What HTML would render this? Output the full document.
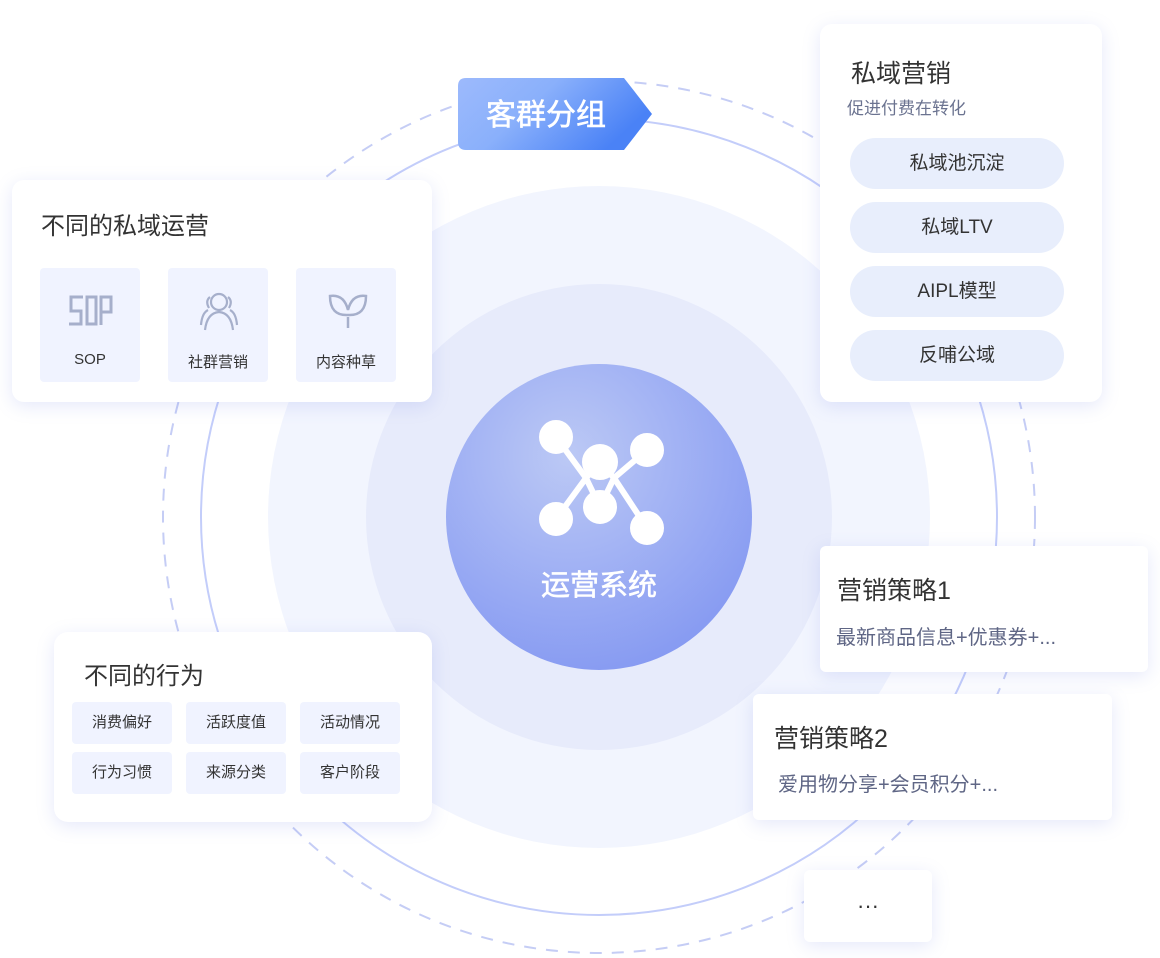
<!DOCTYPE html>
<html><head><meta charset="utf-8"><style>
*{margin:0;padding:0;box-sizing:border-box}
body{width:1160px;height:958px;background:#fff;position:relative;overflow:hidden;font-family:"Liberation Sans","Noto Sans CJK SC",sans-serif;color:#333}
.card{position:absolute;background:#fff;border-radius:12px;box-shadow:0 4px 18px rgba(110,130,230,.18)}
.abs{position:absolute}
.tile{position:absolute;background:#f0f3ff;border-radius:4px;text-align:center;font-size:15px;color:#333}
.pill{position:absolute;left:30px;width:214px;height:51px;border-radius:26px;background:#e8eefc;text-align:center;line-height:51px;font-size:19px;color:#333}
.tag{position:absolute;width:100px;height:42px;background:#f0f3ff;border-radius:4px;text-align:center;line-height:42px;font-size:15px;color:#333}
</style></head><body>
<svg class="abs" style="left:0;top:0" width="1160" height="958">
<defs>
<radialGradient id="cg" cx="0.4" cy="0.3" r="0.75">
<stop offset="0" stop-color="#bcc9f5"/><stop offset="1" stop-color="#8599f2"/></radialGradient>
<linearGradient id="tg" x1="0" y1="0" x2="1" y2="0.4"><stop offset="0" stop-color="#9dbafc"/><stop offset="0.45" stop-color="#8ab0fb"/><stop offset="1" stop-color="#4a82f6"/></linearGradient>
</defs>
<circle cx="599" cy="517" r="436" fill="none" stroke="#c5cdf5" stroke-width="2" stroke-dasharray="12 10"/>
<circle cx="599" cy="517" r="398" fill="none" stroke="#c3cdfa" stroke-width="2"/>
<circle cx="599" cy="517" r="331" fill="#f2f5fe"/>
<circle cx="599" cy="517" r="233" fill="#e7ebfb"/>
<circle cx="599" cy="517" r="153" fill="url(#cg)"/>
<g stroke="#fff" stroke-width="6" fill="#fff">
<polyline fill="none" points="556,437 586,478 600,462 614,478 647,528"/>
<polyline fill="none" points="556,519 586,478 600,507 614,478 647,450"/>
<circle cx="556" cy="437" r="14"/><circle cx="647" cy="450" r="14"/>
<circle cx="600" cy="462" r="15"/><circle cx="600" cy="507" r="14"/>
<circle cx="556" cy="519" r="14"/><circle cx="647" cy="528" r="14"/>
</g>
<text x="599" y="595" text-anchor="middle" fill="#fff" font-size="29" font-family="Liberation Sans,Noto Sans CJK SC,sans-serif" stroke="#fff" stroke-width="0.6">运营系统</text>
<path d="M466 78 H624 L652 114 L624 150 H466 Q458 150 458 142 V86 Q458 78 466 78 Z" fill="url(#tg)"/>
<text x="546" y="125" text-anchor="middle" fill="#fff" font-size="30" font-family="Liberation Sans,Noto Sans CJK SC,sans-serif" stroke="#fff" stroke-width="0.6">客群分组</text>
</svg>

<div class="card" style="left:12px;top:180px;width:420px;height:222px">
<div class="abs" style="left:29px;top:26px;font-size:24px">不同的私域运营</div>
<div class="tile" style="left:28px;top:88px;width:100px;height:114px">
<svg width="100" height="70"><g fill="none" stroke="#a6afcb" stroke-width="3"><path d="M43 29 H31 V43 H41 V56 H29"/><rect x="47" y="29" width="9" height="27"/><path d="M61 57 V29 H71 V44 H61"/></g></svg>
<div style="margin-top:9px">SOP</div></div>
<div class="tile" style="left:156px;top:88px;width:100px;height:114px">
<svg width="100" height="70"><g fill="none" stroke="#a6afcb" stroke-width="2.2"><circle cx="51" cy="34" r="8"/><path d="M37 62 Q39 45 51 44 Q63 45 65 62"/><path d="M42 29 Q37 33 41 40 M33 57 Q34 45 40 42"/><path d="M60 29 Q65 33 61 40 M69 57 Q68 45 62 42"/></g></svg>
<div style="margin-top:9px">社群营销</div></div>
<div class="tile" style="left:284px;top:88px;width:100px;height:114px">
<svg width="100" height="70"><g fill="none" stroke="#a6afcb" stroke-width="2.5"><path d="M52 47 Q34 48 34 28 Q48 26 52 42 Q56 26 70 28 Q70 48 52 47 Z"/><line x1="52" y1="49" x2="52" y2="60"/></g></svg>
<div style="margin-top:9px">内容种草</div></div>
</div>

<div class="card" style="left:820px;top:24px;width:282px;height:378px">
<div class="abs" style="left:31px;top:30px;font-size:25px;color:#333">私域营销</div>
<div class="abs" style="left:27px;top:70px;font-size:17px;color:#6b7390">促进付费在转化</div>
<div class="pill" style="top:114px">私域池沉淀</div>
<div class="pill" style="top:178px">私域LTV</div>
<div class="pill" style="top:242px">AIPL模型</div>
<div class="pill" style="top:306px">反哺公域</div>
</div>

<div class="card" style="left:820px;top:546px;width:328px;height:126px;border-radius:6px">
<div class="abs" style="left:17px;top:25px;font-size:25px">营销策略1</div>
<div class="abs" style="left:16px;top:75px;font-size:20px;color:#5f6685">最新商品信息+优惠券+...</div>
</div>
<div class="card" style="left:753px;top:694px;width:359px;height:126px;border-radius:6px">
<div class="abs" style="left:21px;top:25px;font-size:25px">营销策略2</div>
<div class="abs" style="left:25px;top:74px;font-size:20px;color:#5f6685">爱用物分享+会员积分+...</div>
</div>
<div class="card" style="left:804px;top:870px;width:128px;height:72px;border-radius:6px;text-align:center;line-height:72px;font-size:22px">···</div>

<div class="card" style="left:54px;top:632px;width:378px;height:190px;border-radius:14px">
<div class="abs" style="left:30px;top:24px;font-size:24px">不同的行为</div>
<div class="tag" style="left:18px;top:70px">消费偏好</div>
<div class="tag" style="left:132px;top:70px">活跃度值</div>
<div class="tag" style="left:246px;top:70px">活动情况</div>
<div class="tag" style="left:18px;top:120px">行为习惯</div>
<div class="tag" style="left:132px;top:120px">来源分类</div>
<div class="tag" style="left:246px;top:120px">客户阶段</div>
</div>
</body></html>
